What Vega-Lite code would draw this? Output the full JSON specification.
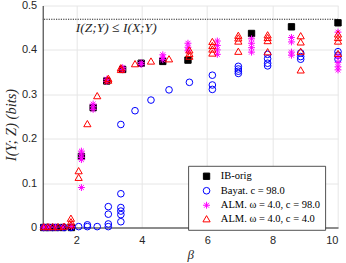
{
  "$schema": "https://vega.github.io/schema/vega-lite/v6.json",
  "autosize": {"type": "none"},
  "padding": {"left": 42.7, "top": 5.5, "right": 8, "bottom": 35.5},
  "width": 295.3,
  "height": 222,
  "background": "white",
  "config": {
    "view": {"stroke": null},
    "axis": {
      "domainColor": "#262626", "domainWidth": 1,
      "gridColor": "#e6e6e6", "gridWidth": 1,
      "labelColor": "#262626", "labelFont": "Liberation Sans", "labelFontSize": 11,
      "ticks": false,
      "titleColor": "#262626", "titleFont": "Liberation Serif", "titleFontStyle": "italic", "titleFontWeight": "normal"
    },
    "legend": {
      "orient": "none", "legendX": 145.6, "legendY": 160.5,
      "strokeColor": "#262626", "fillColor": "white", "strokeWidth": 0.8,
      "padding": 5, "labelFont": "Liberation Serif", "labelFontSize": 10.5, "labelColor": "#000000",
      "rowPadding": 2.5, "symbolStrokeWidth": 1, "symbolOffset": 8, "labelOffset": 9, "title": null
    }
  },
  "layer": [
    {
      "data": {"values": [{"bound": 0.469}]},
      "mark": {"type": "rule", "color": "#262626", "strokeWidth": 1, "strokeDash": [1.2, 1.2]},
      "encoding": {"y": {"field": "bound", "type": "quantitative", "scale": {"domain": [0, 0.5]}}}
    },
    {
      "data": {"values": [{"bx": 1.98, "by": 0.4499, "label": "I(Z;Y) ≤ I(X;Y)"}]},
      "mark": {"type": "text", "align": "left", "baseline": "middle", "font": "Liberation Serif", "fontStyle": "italic", "fontSize": 13.5, "color": "#262626"},
      "encoding": {
        "x": {"field": "bx", "type": "quantitative"},
        "y": {"field": "by", "type": "quantitative"},
        "text": {"field": "label"}
      }
    },
    {
      "data": {"values": [
        {"method": "IB-orig", "beta": 1, "I": 0},
        {"method": "IB-orig", "beta": 1.166, "I": 0},
        {"method": "IB-orig", "beta": 1.359, "I": 0},
        {"method": "IB-orig", "beta": 1.585, "I": 0},
        {"method": "IB-orig", "beta": 1.848, "I": 0},
        {"method": "IB-orig", "beta": 2.154, "I": 0.16},
        {"method": "IB-orig", "beta": 2.512, "I": 0.27},
        {"method": "IB-orig", "beta": 2.929, "I": 0.33},
        {"method": "IB-orig", "beta": 3.415, "I": 0.356},
        {"method": "IB-orig", "beta": 3.981, "I": 0.37},
        {"method": "IB-orig", "beta": 4.642, "I": 0.374},
        {"method": "IB-orig", "beta": 5.412, "I": 0.377},
        {"method": "IB-orig", "beta": 7.356, "I": 0.437},
        {"method": "IB-orig", "beta": 8.577, "I": 0.452},
        {"method": "IB-orig", "beta": 10, "I": 0.461},

        {"method": "Bayat. c = 98.0", "beta": 1, "I": 0},
        {"method": "Bayat. c = 98.0", "beta": 1.129, "I": 0},
        {"method": "Bayat. c = 98.0", "beta": 1.274, "I": 0},
        {"method": "Bayat. c = 98.0", "beta": 1.438, "I": 0},
        {"method": "Bayat. c = 98.0", "beta": 1.624, "I": 0},
        {"method": "Bayat. c = 98.0", "beta": 1.833, "I": 0},
        {"method": "Bayat. c = 98.0", "beta": 2.069, "I": 0.002},
        {"method": "Bayat. c = 98.0", "beta": 2.336, "I": 0.006},
        {"method": "Bayat. c = 98.0", "beta": 2.336, "I": 0.002},
        {"method": "Bayat. c = 98.0", "beta": 2.637, "I": 0.002},
        {"method": "Bayat. c = 98.0", "beta": 2.976, "I": 0.047},
        {"method": "Bayat. c = 98.0", "beta": 2.976, "I": 0.03},
        {"method": "Bayat. c = 98.0", "beta": 2.976, "I": 0.008},
        {"method": "Bayat. c = 98.0", "beta": 2.976, "I": 0.002},
        {"method": "Bayat. c = 98.0", "beta": 3.36, "I": 0.232},
        {"method": "Bayat. c = 98.0", "beta": 3.36, "I": 0.076},
        {"method": "Bayat. c = 98.0", "beta": 3.36, "I": 0.045},
        {"method": "Bayat. c = 98.0", "beta": 3.36, "I": 0.037},
        {"method": "Bayat. c = 98.0", "beta": 3.36, "I": 0.029},
        {"method": "Bayat. c = 98.0", "beta": 3.36, "I": 0.013},
        {"method": "Bayat. c = 98.0", "beta": 3.793, "I": 0.263},
        {"method": "Bayat. c = 98.0", "beta": 4.281, "I": 0.287},
        {"method": "Bayat. c = 98.0", "beta": 4.833, "I": 0.31},
        {"method": "Bayat. c = 98.0", "beta": 5.456, "I": 0.327},
        {"method": "Bayat. c = 98.0", "beta": 6.158, "I": 0.343},
        {"method": "Bayat. c = 98.0", "beta": 6.158, "I": 0.321},
        {"method": "Bayat. c = 98.0", "beta": 6.158, "I": 0.311},
        {"method": "Bayat. c = 98.0", "beta": 6.952, "I": 0.363},
        {"method": "Bayat. c = 98.0", "beta": 6.952, "I": 0.357},
        {"method": "Bayat. c = 98.0", "beta": 6.952, "I": 0.352},
        {"method": "Bayat. c = 98.0", "beta": 6.952, "I": 0.347},
        {"method": "Bayat. c = 98.0", "beta": 7.848, "I": 0.39},
        {"method": "Bayat. c = 98.0", "beta": 7.848, "I": 0.38},
        {"method": "Bayat. c = 98.0", "beta": 7.848, "I": 0.37},
        {"method": "Bayat. c = 98.0", "beta": 7.848, "I": 0.364},
        {"method": "Bayat. c = 98.0", "beta": 8.859, "I": 0.393},
        {"method": "Bayat. c = 98.0", "beta": 8.859, "I": 0.385},
        {"method": "Bayat. c = 98.0", "beta": 8.859, "I": 0.379},
        {"method": "Bayat. c = 98.0", "beta": 10, "I": 0.396},
        {"method": "Bayat. c = 98.0", "beta": 10, "I": 0.388},
        {"method": "Bayat. c = 98.0", "beta": 10, "I": 0.379},

        {"method": "ALM. ω = 4.0, c = 98.0", "beta": 1, "I": 0.001},
        {"method": "ALM. ω = 4.0, c = 98.0", "beta": 1.166, "I": 0.001},
        {"method": "ALM. ω = 4.0, c = 98.0", "beta": 1.359, "I": 0.001},
        {"method": "ALM. ω = 4.0, c = 98.0", "beta": 1.585, "I": 0.001},
        {"method": "ALM. ω = 4.0, c = 98.0", "beta": 1.848, "I": 0.002},
        {"method": "ALM. ω = 4.0, c = 98.0", "beta": 2.154, "I": 0.172},
        {"method": "ALM. ω = 4.0, c = 98.0", "beta": 2.154, "I": 0.165},
        {"method": "ALM. ω = 4.0, c = 98.0", "beta": 2.154, "I": 0.158},
        {"method": "ALM. ω = 4.0, c = 98.0", "beta": 2.154, "I": 0.153},
        {"method": "ALM. ω = 4.0, c = 98.0", "beta": 2.154, "I": 0.09},
        {"method": "ALM. ω = 4.0, c = 98.0", "beta": 2.512, "I": 0.278},
        {"method": "ALM. ω = 4.0, c = 98.0", "beta": 2.512, "I": 0.272},
        {"method": "ALM. ω = 4.0, c = 98.0", "beta": 2.512, "I": 0.266},
        {"method": "ALM. ω = 4.0, c = 98.0", "beta": 2.929, "I": 0.334},
        {"method": "ALM. ω = 4.0, c = 98.0", "beta": 2.929, "I": 0.329},
        {"method": "ALM. ω = 4.0, c = 98.0", "beta": 3.415, "I": 0.36},
        {"method": "ALM. ω = 4.0, c = 98.0", "beta": 3.415, "I": 0.355},
        {"method": "ALM. ω = 4.0, c = 98.0", "beta": 3.981, "I": 0.371},
        {"method": "ALM. ω = 4.0, c = 98.0", "beta": 3.981, "I": 0.367},
        {"method": "ALM. ω = 4.0, c = 98.0", "beta": 4.642, "I": 0.389},
        {"method": "ALM. ω = 4.0, c = 98.0", "beta": 4.642, "I": 0.383},
        {"method": "ALM. ω = 4.0, c = 98.0", "beta": 4.642, "I": 0.378},
        {"method": "ALM. ω = 4.0, c = 98.0", "beta": 5.412, "I": 0.415},
        {"method": "ALM. ω = 4.0, c = 98.0", "beta": 5.412, "I": 0.406},
        {"method": "ALM. ω = 4.0, c = 98.0", "beta": 5.412, "I": 0.398},
        {"method": "ALM. ω = 4.0, c = 98.0", "beta": 6.31, "I": 0.42},
        {"method": "ALM. ω = 4.0, c = 98.0", "beta": 6.31, "I": 0.41},
        {"method": "ALM. ω = 4.0, c = 98.0", "beta": 6.31, "I": 0.4},
        {"method": "ALM. ω = 4.0, c = 98.0", "beta": 6.31, "I": 0.39},
        {"method": "ALM. ω = 4.0, c = 98.0", "beta": 7.356, "I": 0.425},
        {"method": "ALM. ω = 4.0, c = 98.0", "beta": 7.356, "I": 0.415},
        {"method": "ALM. ω = 4.0, c = 98.0", "beta": 7.356, "I": 0.405},
        {"method": "ALM. ω = 4.0, c = 98.0", "beta": 7.356, "I": 0.395},
        {"method": "ALM. ω = 4.0, c = 98.0", "beta": 8.577, "I": 0.428},
        {"method": "ALM. ω = 4.0, c = 98.0", "beta": 8.577, "I": 0.418},
        {"method": "ALM. ω = 4.0, c = 98.0", "beta": 8.577, "I": 0.395},
        {"method": "ALM. ω = 4.0, c = 98.0", "beta": 8.577, "I": 0.388},
        {"method": "ALM. ω = 4.0, c = 98.0", "beta": 10, "I": 0.44},
        {"method": "ALM. ω = 4.0, c = 98.0", "beta": 10, "I": 0.385},
        {"method": "ALM. ω = 4.0, c = 98.0", "beta": 10, "I": 0.372},
        {"method": "ALM. ω = 4.0, c = 98.0", "beta": 10, "I": 0.362},
        {"method": "ALM. ω = 4.0, c = 98.0", "beta": 10, "I": 0.355},

        {"method": "ALM. ω = 4.0, c = 4.0", "beta": 1, "I": 0.002},
        {"method": "ALM. ω = 4.0, c = 4.0", "beta": 1.129, "I": 0.002},
        {"method": "ALM. ω = 4.0, c = 4.0", "beta": 1.274, "I": 0.002},
        {"method": "ALM. ω = 4.0, c = 4.0", "beta": 1.438, "I": 0.002},
        {"method": "ALM. ω = 4.0, c = 4.0", "beta": 1.624, "I": 0.003},
        {"method": "ALM. ω = 4.0, c = 4.0", "beta": 1.833, "I": 0.021},
        {"method": "ALM. ω = 4.0, c = 4.0", "beta": 1.833, "I": 0.013},
        {"method": "ALM. ω = 4.0, c = 4.0", "beta": 1.833, "I": 0.006},
        {"method": "ALM. ω = 4.0, c = 4.0", "beta": 2.069, "I": 0.128},
        {"method": "ALM. ω = 4.0, c = 4.0", "beta": 2.069, "I": 0.113},
        {"method": "ALM. ω = 4.0, c = 4.0", "beta": 2.336, "I": 0.234},
        {"method": "ALM. ω = 4.0, c = 4.0", "beta": 2.637, "I": 0.297},
        {"method": "ALM. ω = 4.0, c = 4.0", "beta": 2.976, "I": 0.336},
        {"method": "ALM. ω = 4.0, c = 4.0", "beta": 2.976, "I": 0.332},
        {"method": "ALM. ω = 4.0, c = 4.0", "beta": 3.36, "I": 0.36},
        {"method": "ALM. ω = 4.0, c = 4.0", "beta": 3.36, "I": 0.356},
        {"method": "ALM. ω = 4.0, c = 4.0", "beta": 3.793, "I": 0.369},
        {"method": "ALM. ω = 4.0, c = 4.0", "beta": 4.281, "I": 0.375},
        {"method": "ALM. ω = 4.0, c = 4.0", "beta": 4.833, "I": 0.38},
        {"method": "ALM. ω = 4.0, c = 4.0", "beta": 5.456, "I": 0.4},
        {"method": "ALM. ω = 4.0, c = 4.0", "beta": 5.456, "I": 0.392},
        {"method": "ALM. ω = 4.0, c = 4.0", "beta": 5.456, "I": 0.386},
        {"method": "ALM. ω = 4.0, c = 4.0", "beta": 6.158, "I": 0.419},
        {"method": "ALM. ω = 4.0, c = 4.0", "beta": 6.158, "I": 0.41},
        {"method": "ALM. ω = 4.0, c = 4.0", "beta": 6.158, "I": 0.402},
        {"method": "ALM. ω = 4.0, c = 4.0", "beta": 6.158, "I": 0.393},
        {"method": "ALM. ω = 4.0, c = 4.0", "beta": 6.952, "I": 0.433},
        {"method": "ALM. ω = 4.0, c = 4.0", "beta": 6.952, "I": 0.427},
        {"method": "ALM. ω = 4.0, c = 4.0", "beta": 6.952, "I": 0.42},
        {"method": "ALM. ω = 4.0, c = 4.0", "beta": 6.952, "I": 0.397},
        {"method": "ALM. ω = 4.0, c = 4.0", "beta": 7.848, "I": 0.434},
        {"method": "ALM. ω = 4.0, c = 4.0", "beta": 7.848, "I": 0.428},
        {"method": "ALM. ω = 4.0, c = 4.0", "beta": 7.848, "I": 0.421},
        {"method": "ALM. ω = 4.0, c = 4.0", "beta": 7.848, "I": 0.396},
        {"method": "ALM. ω = 4.0, c = 4.0", "beta": 8.859, "I": 0.432},
        {"method": "ALM. ω = 4.0, c = 4.0", "beta": 8.859, "I": 0.418},
        {"method": "ALM. ω = 4.0, c = 4.0", "beta": 8.859, "I": 0.397},
        {"method": "ALM. ω = 4.0, c = 4.0", "beta": 8.859, "I": 0.355},
        {"method": "ALM. ω = 4.0, c = 4.0", "beta": 10, "I": 0.436},
        {"method": "ALM. ω = 4.0, c = 4.0", "beta": 10, "I": 0.428},
        {"method": "ALM. ω = 4.0, c = 4.0", "beta": 10, "I": 0.42},
        {"method": "ALM. ω = 4.0, c = 4.0", "beta": 10, "I": 0.392}
      ]},
      "mark": {"type": "point", "opacity": 1, "strokeWidth": 1},
      "encoding": {
        "x": {"field": "beta", "type": "quantitative", "scale": {"domain": [0.97, 10], "nice": false, "zero": false},
              "axis": {"values": [2, 4, 6, 8, 10], "title": "β", "titleFontSize": 13, "titleX": 147.6, "titleY": 30.5, "titleBaseline": "alphabetic", "titleAnchor": null, "labelPadding": 7}},
        "y": {"field": "I", "type": "quantitative", "scale": {"domain": [0, 0.5], "nice": false},
              "axis": {"values": [0, 0.1, 0.2, 0.3, 0.4, 0.5], "format": "~g", "title": "I(Y; Z) (bits)", "titleFontSize": 14.5, "titleX": -31, "titleY": 119, "titleBaseline": "middle", "titleAngle": -90, "labelPadding": 6}},
        "shape": {"field": "method", "type": "nominal",
                  "scale": {"domain": ["IB-orig", "Bayat. c = 98.0", "ALM. ω = 4.0, c = 98.0", "ALM. ω = 4.0, c = 4.0"],
                            "range": ["square", "circle", "M0,-1V1M-1,0H1M-0.7,-0.7L0.7,0.7M-0.7,0.7L0.7,-0.7", "triangle-up"]},
                  "legend": {"encode": {"symbols": {"update": {"size": {"value": 30}}}}}},
        "stroke": {"field": "method", "type": "nominal",
                   "scale": {"domain": ["IB-orig", "Bayat. c = 98.0", "ALM. ω = 4.0, c = 98.0", "ALM. ω = 4.0, c = 4.0"],
                             "range": ["#000000", "#0000ff", "#ff00ff", "#ff0000"]},
                   "legend": {"encode": {"symbols": {"update": {"size": {"value": 30}}}}}},
        "fill": {"field": "method", "type": "nominal",
                 "scale": {"domain": ["IB-orig", "Bayat. c = 98.0", "ALM. ω = 4.0, c = 98.0", "ALM. ω = 4.0, c = 4.0"],
                           "range": ["#000000", "transparent", "transparent", "transparent"]},
                 "legend": {"encode": {"symbols": {"update": {"size": {"value": 30}}}}}},
        "size": {"field": "method", "type": "nominal",
                 "scale": {"domain": ["IB-orig", "Bayat. c = 98.0", "ALM. ω = 4.0, c = 98.0", "ALM. ω = 4.0, c = 4.0"],
                           "range": [40, 52, 72, 86]},
                 "legend": {"encode": {"symbols": {"update": {"size": {"value": 30}}}}}}
      }
    }
  ]
}
